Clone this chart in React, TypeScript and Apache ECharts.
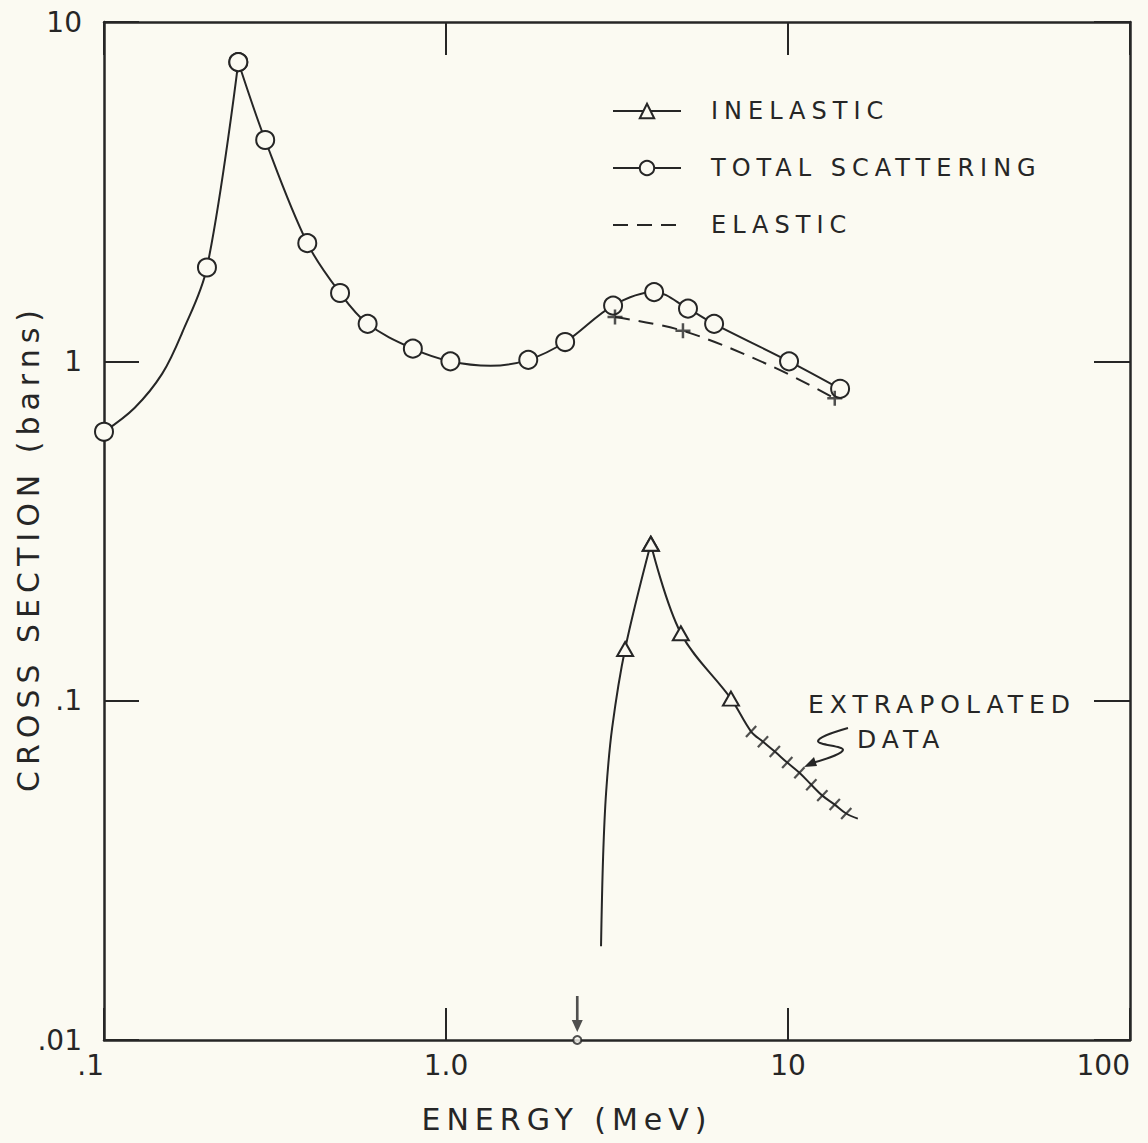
import React, { useEffect, useRef } from 'react';
import * as echarts from 'echarts';

// ---------- data ----------
const xTickValues = [0.1, 1, 10, 100];
const xTickLabels = ['.1', '1.0', '10', '100'];
const yTickValues = [0.01, 0.1, 1, 10];
const yTickLabels = ['.01', '.1', '1', '10'];

// Total scattering, rising branch up to the resonance peak (false = curve reading, no marker)
const totalRiseE = [0.1, 0.123, 0.148, 0.169, 0.2, 0.247];
const totalRiseS = [0.62, 0.73, 0.92, 1.21, 1.89, 7.62];
const totalRiseMarked = [true, false, false, false, true, true];

// Total scattering, falling branch from the peak
const totalFallE = [0.247, 0.296, 0.393, 0.49, 0.59, 0.8, 1.03, 1.35, 1.74, 2.23, 3.08, 4.06, 5.1, 6.08, 10.07, 14.2];
const totalFallS = [7.62, 4.49, 2.23, 1.59, 1.29, 1.09, 1.0, 0.97, 1.01, 1.14, 1.46, 1.6, 1.43, 1.29, 1.0, 0.83];
const totalFallMarked = [true, true, true, true, true, true, true, false, true, true, true, true, true, true, true, true];

// Elastic (dashed), + markers
const elasticE = [3.12, 4.93, 8.85, 13.7];
const elasticS = [1.35, 1.23, 0.973, 0.778];
const elasticMarked = [true, true, false, true];

// Inelastic, rising from threshold to peak
const inelRiseE = [2.84, 2.88, 2.94, 3.06, 3.34, 3.97];
const inelRiseS = [0.0189, 0.0347, 0.054, 0.083, 0.142, 0.29];
const inelRiseMarked = [false, false, false, false, true, true];

// Inelastic, falling from peak (measured)
const inelFallE = [3.97, 4.86, 6.81];
const inelFallS = [0.29, 0.158, 0.1014];

// Inelastic, extrapolated data (hash marks) and curve end
const extrapE = [7.8, 8.45, 9.15, 9.95, 10.8, 11.7, 12.6, 13.7, 14.8];
const extrapS = [0.0811, 0.0757, 0.0708, 0.0657, 0.0613, 0.0565, 0.0525, 0.0494, 0.0465];
const extrapEndE = 16.0;
const extrapEndS = 0.0449;

// Threshold marker on the energy axis
const thresholdE = 2.42;

// ---------- styling ----------
const INK = '#262626';
const PAPER = '#fbfaf2';
const NUM_FONT = 'DejaVu Sans';
const TXT_FONT = "'DejaVu Sans', sans-serif";

function pts(E: number[], S: number[], marked?: boolean[]) {
  return E.map((e, i) =>
    !marked || marked[i] ? [e, S[i]] : { value: [e, S[i]], symbol: 'none' }
  );
}

function labelFor(values: number[], labels: string[]) {
  return (v: number) => {
    const i = values.findIndex((t) => Math.abs(Math.log10(t) - Math.log10(v)) < 0.01);
    return i >= 0 ? labels[i] : '';
  };
}

const lineStyle = { color: INK, width: 2 };
const hollow = { color: PAPER, borderColor: INK, borderWidth: 2 };

function buildOption(): any {
  const frameAxis = {
    type: 'log',
    logBase: 10,
    axisLine: { show: true, onZero: false, lineStyle: { color: INK, width: 2.5 } },
    splitLine: { show: false },
    minorTick: { show: false },
    minorSplitLine: { show: false },
  };
  return {
    animation: false,
    backgroundColor: PAPER,
    grid: { left: 104, right: 18, top: 22, bottom: 103, containLabel: false, outerBoundsMode: 'none' },
    legend: {
      data: ['INELASTIC', 'TOTAL SCATTERING', 'ELASTIC'],
      orient: 'vertical',
      left: 612,
      top: 99,
      padding: 0,
      itemWidth: 68,
      itemHeight: 18,
      itemGap: 33,
      selectedMode: false,
      textStyle: { fontFamily: TXT_FONT, fontSize: 24, color: INK, padding: [0, 0, 0, 25] },
    },
    xAxis: [
      {
        ...frameAxis,
        min: 0.1,
        max: 100,
        position: 'bottom',
        axisTick: { show: true, inside: true, length: 32, lineStyle: { color: INK, width: 2 } },
        axisLabel: {
          show: true,
          formatter: labelFor(xTickValues, xTickLabels),
          fontFamily: NUM_FONT,
          fontSize: 28,
          color: INK,
          margin: 11,
          alignMinLabel: 'right',
          alignMaxLabel: 'right',
        },
        name: 'ENERGY (MeV)',
        nameLocation: 'middle',
        nameGap: 64,
        nameMoveOverlap: false,
        nameTextStyle: { fontFamily: TXT_FONT, fontSize: 30, color: INK, padding: [0, 100, 0, 0] },
      },
      {
        ...frameAxis,
        min: 0.1,
        max: 100,
        position: 'top',
        axisTick: { show: true, inside: true, length: 33, lineStyle: { color: INK, width: 2 } },
        axisLabel: { show: false },
      },
    ],
    yAxis: [
      {
        ...frameAxis,
        min: 0.01,
        max: 10,
        position: 'left',
        axisTick: { show: true, inside: true, length: 35, lineStyle: { color: INK, width: 2 } },
        axisLabel: {
          show: true,
          formatter: labelFor(yTickValues, yTickLabels),
          fontFamily: NUM_FONT,
          fontSize: 28,
          color: INK,
          margin: 22,
          padding: [0, 0, 14, 0],
        },
        name: 'CROSS SECTION (barns)',
        nameLocation: 'middle',
        nameRotate: 90,
        nameGap: 61,
        nameMoveOverlap: false,
        nameTextStyle: { fontFamily: TXT_FONT, fontSize: 30, color: INK, padding: [0, 34, 0, 0] },
      },
      {
        ...frameAxis,
        min: 0.01,
        max: 10,
        position: 'right',
        axisTick: { show: true, inside: true, length: 36, lineStyle: { color: INK, width: 2 } },
        axisLabel: { show: false },
      },
    ],
    series: [
      {
        name: 'INELASTIC',
        type: 'line',
        smooth: 0.35,
        clip: false,
        data: pts(inelRiseE, inelRiseS, inelRiseMarked),
        symbol: 'triangle',
        symbolSize: [16, 14],
        itemStyle: hollow,
        lineStyle,
        z: 3,
      },
      {
        name: 'INELASTIC',
        type: 'line',
        smooth: 0.35,
        clip: false,
        data: [
          ...pts(inelFallE, inelFallS),
          ...extrapE.map((e, i) => ({ value: [e, extrapS[i]], symbol: 'none' })),
          { value: [extrapEndE, extrapEndS], symbol: 'none' },
        ],
        symbol: 'triangle',
        symbolSize: [16, 14],
        itemStyle: hollow,
        lineStyle,
        z: 3,
      },
      {
        name: 'EXTRAPOLATED DATA',
        type: 'scatter',
        clip: false,
        data: pts(extrapE, extrapS),
        symbol: 'rect',
        symbolSize: [2.2, 15],
        symbolRotate: -43,
        itemStyle: { color: INK },
        z: 4,
      },
      {
        name: 'TOTAL SCATTERING',
        type: 'line',
        smooth: 0.35,
        clip: false,
        data: pts(totalRiseE, totalRiseS, totalRiseMarked),
        symbol: 'circle',
        symbolSize: 18,
        itemStyle: hollow,
        lineStyle,
        z: 3,
      },
      {
        name: 'TOTAL SCATTERING',
        type: 'line',
        smooth: 0.35,
        clip: false,
        data: pts(totalFallE, totalFallS, totalFallMarked),
        symbol: 'circle',
        symbolSize: 18,
        itemStyle: hollow,
        lineStyle,
        z: 3,
      },
      {
        name: 'ELASTIC',
        type: 'line',
        smooth: 0.35,
        clip: false,
        data: pts(elasticE, elasticS),
        symbol: 'none',
        itemStyle: { color: 'rgba(0,0,0,0)', opacity: 0 },
        lineStyle: { color: INK, width: 2, type: [15, 9] },
        z: 2,
      },
      {
        name: 'ELASTIC +',
        type: 'scatter',
        clip: false,
        data: pts(elasticE, elasticS, elasticMarked).filter((d: any) => Array.isArray(d)),
        symbol: 'path://M5,0H7V5H12V7H7V12H5V7H0V5H5Z',
        symbolSize: 15,
        itemStyle: { color: INK },
        z: 4,
      },
      {
        name: 'threshold',
        type: 'scatter',
        clip: false,
        data: [[thresholdE, yTickValues[0]]],
        symbol: 'circle',
        symbolSize: 8,
        itemStyle: { color: PAPER, borderColor: INK, borderWidth: 2 },
        z: 5,
      },
      {
        name: 'threshold arrow',
        type: 'scatter',
        clip: false,
        data: [[thresholdE, yTickValues[0]]],
        symbol: 'path://M3.8,0H6.2V24H10L5,36L0,24H3.8Z',
        symbolSize: [11, 36],
        symbolOffset: [0, -26],
        itemStyle: { color: INK },
        z: 5,
      },
    ],
    graphic: [
      {
        type: 'text',
        x: 808,
        y: 692,
        style: { text: 'EXTRAPOLATED', font: `25px ${TXT_FONT}`, fill: INK },
      },
      {
        type: 'text',
        x: 857,
        y: 727,
        style: { text: 'DATA', font: `25px ${TXT_FONT}`, fill: INK },
      },
      {
        type: 'polyline',
        shape: { points: [[848, 728], [818, 741], [843, 750], [812, 763]], smooth: 0.4 },
        style: { stroke: INK, lineWidth: 2, fill: null },
      },
      {
        type: 'polygon',
        shape: { points: [[804, 767], [814, 757], [817, 766]] },
        style: { fill: INK },
      },
    ],
  };
}

export default function App() {
  const ref = useRef<HTMLDivElement>(null);
  useEffect(() => {
    if (!ref.current) return;
    const chart = echarts.init(ref.current, null, { renderer: 'svg' });
    chart.setOption(buildOption());
    return () => chart.dispose();
  }, []);
  return (
    <div style={{ position: 'fixed', left: 0, top: 0, width: 1148, height: 1143, background: PAPER }}>
      <style>{`.chartbox text[style*="sans-serif"]{letter-spacing:6px}`}</style>
      <div ref={ref} className="chartbox" style={{ width: 1148, height: 1143 }} />
    </div>
  );
}
